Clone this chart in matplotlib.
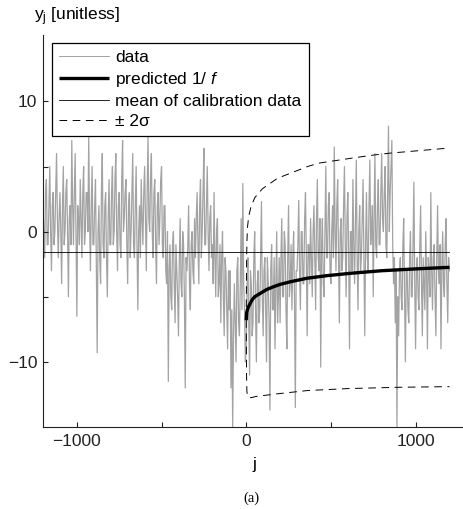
import numpy as np
import matplotlib
matplotlib.use("Agg")
import matplotlib.pyplot as plt

plt.rcParams['font.family'] = ['Liberation Sans', 'DejaVu Sans']
plt.rcParams['mathtext.fontset'] = 'custom'
plt.rcParams['mathtext.rm'] = 'Liberation Sans'
plt.rcParams['mathtext.it'] = 'Liberation Sans:italic'
plt.rcParams['lines.scale_dashes'] = False

# ---- data ----
data_step = 5
data_values = [
    2, 0, -2, 3, 4, -1, -1, 2, 5, 0, -3, 2, 3, -1, 0, 3, 6, 1, -2, 1,
    3, 0, -4, 2, 5, -1, 0, 3, 4, 0, -5, 1, 2, -1, 7, 2, -1, 3, 6, 0,
    -6.5, 2, 1, -1, 4, 1, -2, 3, 5, -1, 0, 3, 3, 0, 7.3, 1, -3, 2, 5, -1,
    -1, 2, 4, -3, -9.3, 0, 2, -2, -4, 3, 6, -1, -2, 2, 3, -2, -5, 1, 4, -1,
    -1, 3, 5, -1, 0, 4, 6, 0, -3, 2, 3, -1, -2, 4, 7, 0, 1, 3, 4, -1,
    -4, 2, 3, -2, 0, 3, 6, -1, -2, 2, 5, -1, -6, 0, 2, -2, 4, 1, -1, 3,
    5, 1, -3, 3, 7.3, 1, 0, 4, 6, 0, -2, 3, 4, -1, -4, 2, 3, -1, 1, 4,
    5, -1, -2, 2, 2, -3, -4, 0, -11.5, -3, -1, -5, -6, -1, 0, -4, -7, -1, -3, -5,
    -8, -2, 1, -4, -5, 0, -1, -5, -12, -2, -3, -1, 2, -4, -6, -1, 0, -3, -4, 1,
    -2, 1, 3, -1, -4, 2, 4, -2, 0, 3, 6.4, -1, -1, 2, 5, 0, -3, 1, 2, -2,
    -1, -4, 3, -2, -5, 0, 1, -5, -4, -1, -7, -2, 0, -5, -8, -2, -3, -6, -9, -3,
    -6, -3, -12, -6, -15, -8, -4, -7, -10, -3, -2, -7, -8, -4, 1, -6, 3.7, -4, -6, -10,
    -9, -4, -2, -7, -11, -3, -4, -8, -7, -2, 0, -6, -10, -4, -3, -7, -6, -2, 2.3, -5,
    -8, -3, -2, -6, -10, -2, -4, -7, -13.7, -3, -1, -6, -6, -2, -9, -4, 0, -7, -5, -2,
    -7, -2, 1, -5, -5, 0, -1, -6, -9, -2, 2, -5, -4, -1, -6, -2, 0, -5, -13.5, -3,
    -3, -1, 2.4, -3, -6, 0, 0, -4, -4, 1, 3, -2, -8, -1, -1, -4, 1, -2, -5, 0,
    2, -2, -6, 1, 4, -2, -3, 1, -10.4, -1, 1, -4, -5, 0, 5, -2, -2, 2, 3, -3,
    -4, 0, 2, -2, 6.5, 0, -3, 2, 4, -2, -7, 0, 1, -3, -2, 2, 5, -1, -5, 1,
    3, -2, -9, 0, 0, -3, 4, -1, -4, 1, 5.5, -2, -6, 0, 2, -3, -2, 1, 4, -2,
    -8, -1, 3, -2, -3, 2, 5.5, -1, 0, 2, -5, 1, 6, -1, -2, 2, 4, -1, -1, 3,
    6, 1, 0, 3, 5, -1, -2, 3, 8.1, 0, 3, 5, 7, -1, -4, -2, -7, -3, -15, -5,
    -8, -3, -2, -5, -6, -1, 1, -5, -10, -3, -3, -6, -7, -2, 0, -5, -5, -1, 3.8, -4,
    -9, -3, -2, -5, -6, -1, 2, -4, -8, -2, -4, -6, 0, -3, -9, -2, -3, -5, 3, -3,
    -6, -2, -1, -5, -8, -2, 2, -3, -4, -1, -9, -3, 0, -4, -5, -1, 1, -4, -7, -2,
    -3,
]
data_j = np.arange(-1200, -1200 + data_step * len(data_values), data_step)

pred_j = [0, 3, 8, 14, 34, 50, 83, 120, 161, 200, 260, 358, 476, 614, 800, 1000, 1200]
pred_y = [-6.8, -6.2, -5.95, -5.75, -5.25, -5.0, -4.74, -4.45, -4.23, -4.05, -3.85, -3.58, -3.38, -3.2, -3.0, -2.86, -2.74]

upper_j = [0, 1, 2, 4, 8, 15, 28, 50, 96, 185, 362, 429, 625, 763, 850, 1200]
upper_y = [-6.8, -4.5, -2.5, -0.8, 0.4, 1.2, 1.9, 2.6, 3.3, 4.1, 5.0, 5.26, 5.65, 5.9, 6.03, 6.42]

lower_j = [0, 1, 2, 4, 10, 28, 60, 185, 362, 600, 900, 1200]
lower_y = [-6.8, -9.0, -11.0, -12.3, -12.7, -12.75, -12.65, -12.45, -12.2, -12.05, -11.95, -11.9]

calib_mean = -1.6
mean_j = [-1200, 1200]

xticks = [-1000, -500, 0, 500, 1000]
xticklabels = ['\u22121000', '', '0', '', '1000']
yticks = [-10, -5, 0, 5, 10]
yticklabels = ['\u221210', '', '0', '', '10']

# ---- figure ----
W, H = 464, 509
fig = plt.figure(figsize=(W / 100, H / 100), dpi=100)
ax_l, ax_r, ax_t, ax_b = 43, 464, 35, 427
ax = fig.add_axes([ax_l / W, 1 - ax_b / H, (ax_r - ax_l) / W, (ax_b - ax_t) / H])

ax.plot(data_j, data_values, color='#a3a3a3', lw=0.9, label='data', zorder=1)
ax.plot(pred_j, pred_y, color='black', lw=2.4, label='predicted 1/ $f$', zorder=3,
        solid_capstyle='butt')
ax.plot(mean_j, [calib_mean, calib_mean], color='black', lw=0.6,
        label='mean of calibration data', zorder=2)
ax.plot(upper_j, upper_y, color='black', lw=0.7, dashes=(5.5, 4), label='\u00b1 2\u03c3', zorder=2)
ax.plot(lower_j, lower_y, color='black', lw=0.7, dashes=(5.5, 4), zorder=2)

ax.set_xlim(-1200, 1286)
ax.set_ylim(-15, 15.1)
for s in ['top', 'right']:
    ax.spines[s].set_visible(False)
for s in ['left', 'bottom']:
    ax.spines[s].set_linewidth(0.8)
    ax.spines[s].set_color('#222222')

ax.set_xticks(xticks)
ax.set_xticklabels(xticklabels)
ax.set_yticks(yticks)
ax.set_yticklabels(yticklabels)
ax.tick_params(direction='in', length=3.5, width=0.8, labelsize=12.5, colors='#222222')
ax.tick_params(axis='x', pad=5)
ax.tick_params(axis='y', pad=4)

leg = ax.legend(loc='upper left', bbox_to_anchor=((52 - ax_l) / (ax_r - ax_l), 1 - (43 - ax_t) / (ax_b - ax_t)),
                borderaxespad=0, fontsize=12.5, frameon=True, fancybox=False,
                edgecolor='black', framealpha=1, handlelength=2.9, handletextpad=0.35,
                labelspacing=0.28, borderpad=0.4)
leg.get_frame().set_linewidth(0.9)
leg.get_lines()[0].set_linewidth(0.7)

ax.text((34 - ax_l) / (ax_r - ax_l), (ax_b - 20) / (ax_b - ax_t), r'$\mathrm{y_j}$ [unitless]',
        transform=ax.transAxes, fontsize=12.5, ha='left', va='baseline')
fig.text(254 / W, 1 - 465 / H, 'j', fontsize=12.5, ha='center', va='center')
fig.text(251 / W, 1 - 498 / H, '(a)', fontsize=10.5, ha='center', va='center',
         family='Liberation Serif')

fig.savefig('out.png', dpi=100)
